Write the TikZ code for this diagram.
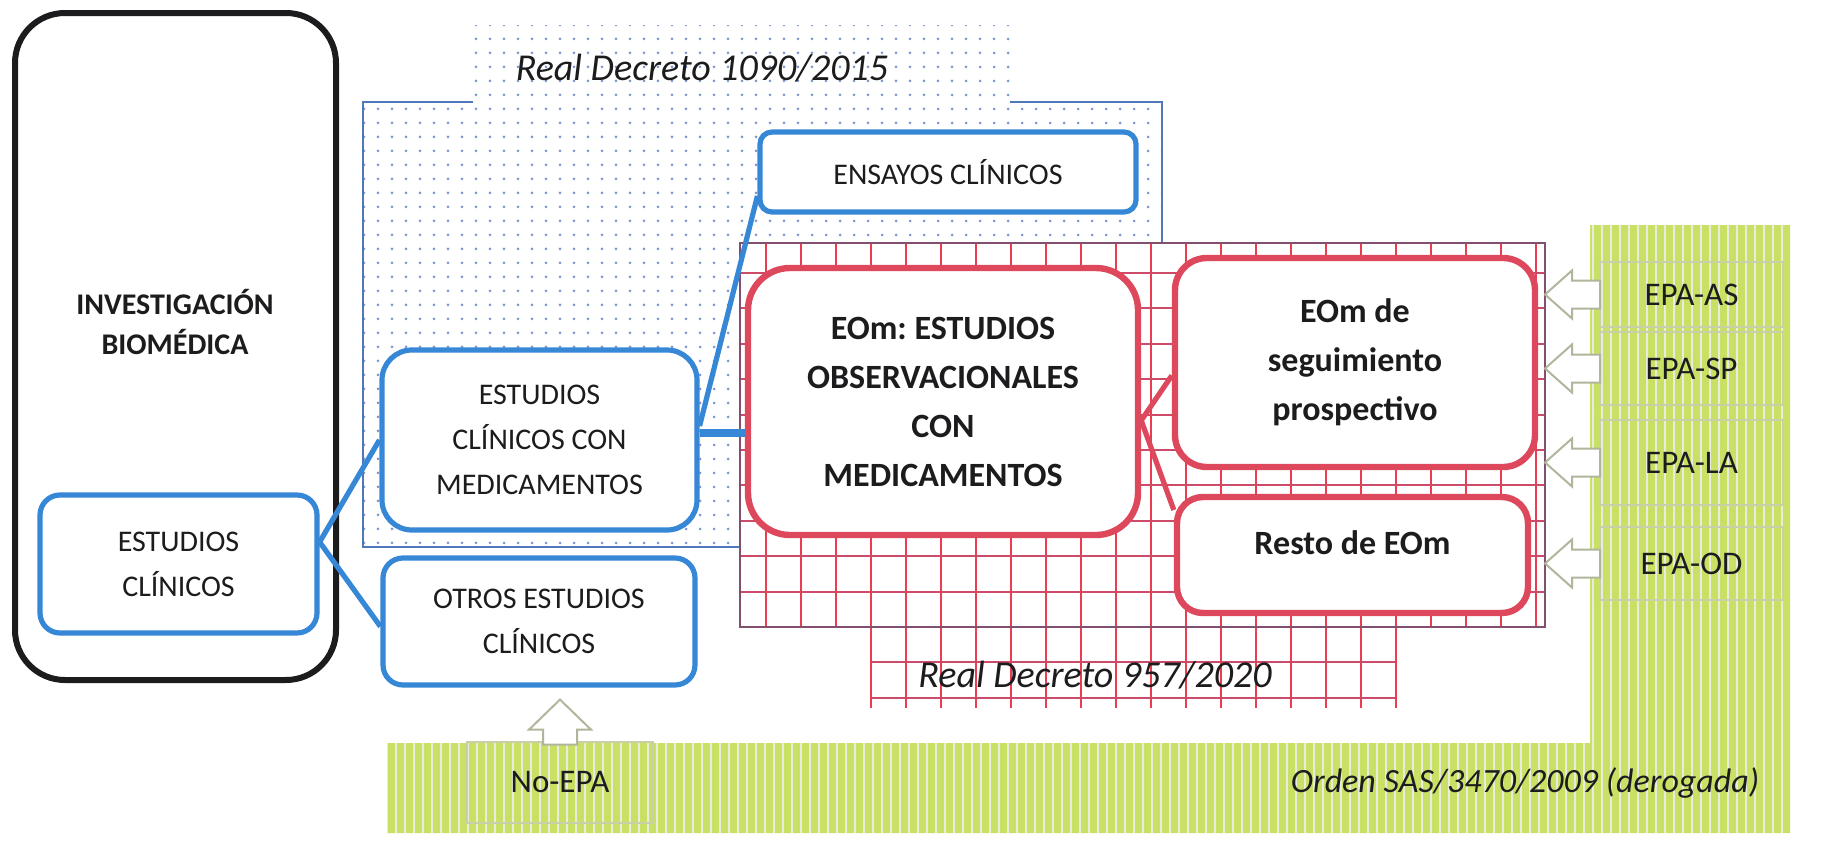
\documentclass[tikz,border=0pt]{standalone}
\usepackage{fontspec}
\setmainfont{Carlito}
\usetikzlibrary{patterns.meta,calc}
\definecolor{bluebox}{RGB}{55,135,215}
\definecolor{blueedge}{RGB}{80,120,185}
\definecolor{dotblue}{RGB}{125,150,205}
\definecolor{redbox}{RGB}{222,72,92}
\definecolor{gridv}{RGB}{236,60,80}
\definecolor{gridh}{RGB}{205,75,105}
\definecolor{gridedge}{RGB}{130,80,110}
\definecolor{greenbg}{RGB}{200,225,100}
\definecolor{greenln}{RGB}{232,235,222}
\definecolor{arrowgray}{RGB}{175,182,155}
\definecolor{epaedge}{RGB}{200,208,170}
\definecolor{ink}{RGB}{28,28,30}
\begin{document}
\frenchspacing
\begin{tikzpicture}[x=0.5pt,y=-0.5pt,
  blackbx/.style={draw=ink, line width=3pt, rounded corners=25pt, fill=white, inner sep=0pt},
  bluebx/.style={draw=bluebox, line width=2.6pt, fill=white, align=center, text=ink,
     font=\fontsize{15}{22.5}\selectfont, inner sep=0pt},
  redbx/.style={draw=redbox, line width=3.2pt, fill=white, align=center, text=ink,
     font=\fontsize{17}{24.5}\selectfont\bfseries, inner sep=0pt},
  redtxt/.style={align=center, text=ink, font=\fontsize{17}{24.5}\selectfont\bfseries, inner sep=0pt},
  invtxt/.style={align=center, text=ink, font=\fontsize{15}{20.5}\selectfont\bfseries, inner sep=0pt},
  epabx/.style={draw=epaedge, line width=0.7pt, text=ink, font=\fontsize{16.5}{20}\selectfont,
     minimum width=91.5pt, inner sep=0pt},
  titletxt/.style={text=ink, font=\fontsize{19}{22}\selectfont\itshape, inner sep=0pt},
  ordtxt/.style={text=ink, font=\fontsize{17}{20}\selectfont\itshape, inner sep=0pt},
  bluecon/.style={draw=bluebox, line width=2.6pt},
  redcon/.style={draw=redbox, line width=2.6pt},
  hollow/.style={draw=arrowgray, line width=1pt, fill=white, line join=miter},
  gridvl/.style={draw=gridv, line width=1pt},
  gridhl/.style={draw=gridh, line width=1pt}
]
\useasboundingbox (0,0) rectangle (1821,851);

% ---------- Real Decreto 1090/2015 region (dotted) ----------
\fill[pattern={Dots[distance=7pt,radius=0.75pt]}, pattern color=dotblue]
  (363,102) -- (473,102) -- (473,25) -- (1010,25) -- (1010,102) -- (1162,102)
  -- (1162,547) -- (363,547) -- cycle;
\draw[blueedge, line width=0.9pt] (473,102) -- (363,102) -- (363,547) -- (1162,547) -- (1162,102) -- (1010,102);

% ---------- Orden SAS region (green stripes) ----------
\path[preaction={fill=greenbg}, pattern={Lines[angle=90,distance=4.5pt,line width=1.4pt]}, pattern color=greenln]
  (387,743) -- (1590,743) -- (1590,225) -- (1790,225) -- (1790,833) -- (387,833) -- cycle;

% ---------- Real Decreto 957/2020 region (red grid) ----------
\fill[white] (740,243) rectangle (1545,627);
\fill[white] (871,627) rectangle (1396,708);
\foreach \k in {0,...,22}{\draw[gridvl] ({766+35*\k},243) -- ({766+35*\k},627);}
\foreach \k in {3,...,18}{\draw[gridvl] ({766+35*\k},627) -- ({766+35*\k},708);}
\foreach \k in {0,...,9}{\draw[gridhl] (740,{273+35.4*\k}) -- (1545,{273+35.4*\k});}
\foreach \yy in {662.4,697.8}{\draw[gridhl] (871,\yy) -- (1396,\yy);}
\draw[gridedge, line width=0.9pt] (740,243) rectangle (1545,627);
\coordinate (gridE) at (1545,243);

% ---------- titles ----------
\node[titletxt] (rd1) at (702,68) {Real Decreto 1090/2015};
\node[titletxt] (rd2) at (1095,675) {Real Decreto 957/2020};
\node[ordtxt] (ord) at (1525,783) {Orden SAS/3470/2009 (derogada)};

% ---------- EPA boxes ----------
\node[epabx, minimum height=32.5pt] (as) at (1691.5,294.5) {EPA-AS};
\node[epabx, minimum height=36.5pt] (sp) at (1691.5,368.5) {EPA-SP};
\node[epabx, minimum height=42.5pt] (la) at (1691.5,462.5) {EPA-LA};
\node[epabx, minimum height=36.5pt] (od) at (1691.5,563.5) {EPA-OD};
\node[epabx, minimum width=93pt, minimum height=40.5pt] (noepa) at (560,782.5) {No-EPA};

% ---------- main boxes ----------
\node[blackbx, minimum width=160.5pt, minimum height=333.5pt] (inv) at (175.5,346.5) {};
\node[invtxt] (invt) at (175,322) {INVESTIGACIÓN\\BIOMÉDICA};

\node[bluebx, rounded corners=10pt, minimum width=138.5pt, minimum height=69pt] (ec) at (178.5,564) {ESTUDIOS\\CLÍNICOS};
\node[bluebx, rounded corners=15pt, minimum width=157.5pt, minimum height=90pt] (eccm) at (539.5,440) {ESTUDIOS\\CLÍNICOS CON\\MEDICAMENTOS};
\node[bluebx, rounded corners=10pt, minimum width=156pt, minimum height=63.5pt] (otros) at (539,621.5) {OTROS ESTUDIOS\\CLÍNICOS};
\node[bluebx, rounded corners=6pt, minimum width=188pt, minimum height=40pt] (ens) at (948,172) {ENSAYOS CLÍNICOS};

\node[redbx, rounded corners=21pt, minimum width=195pt, minimum height=133.5pt] (eom) at (943,401.5) {EOm: ESTUDIOS\\OBSERVACIONALES\\CON\\MEDICAMENTOS};
\node[redbx, rounded corners=16pt, minimum width=180pt, minimum height=104.5pt] (seg) at (1355,362.5) {EOm de\\seguimiento\\prospectivo};
\node[redbx, rounded corners=13pt, minimum width=175.5pt, minimum height=58pt] (resto) at (1352.5,555) {};
\node[redtxt] (restot) at (1352.5,543) {Resto de EOm};

% ---------- connectors ----------
\draw[bluecon] ([yshift=11pt]ec.east) -- (eccm.west);
\draw[bluecon] ([yshift=11pt]ec.east) -- ([yshift=-2.5pt]otros.west);
\draw[bluecon] ([yshift=7pt]eccm.east) -- ([yshift=-12pt]ens.west);
\draw[draw=bluebox, line width=4pt] ([yshift=3.5pt]eccm.east) -- ([yshift=3.5pt]eccm.east -| eom.west);
\draw[redcon] ([yshift=-9.5pt]eom.east) -- ([yshift=-6.5pt]seg.west);
\draw[redcon] ([yshift=-9.5pt]eom.east) -- ([yshift=22.5pt]resto.west);

% ---------- hollow arrows ----------
\foreach \b in {as,sp,la,od}{
  \draw[hollow] (gridE |- \b.west) -- ++(27,-24) -- ++(0,10) -- ++(28,0) -- ++(0,28) -- ++(-28,0) -- ++(0,10) -- cycle;
}
\draw[hollow] ($(otros.south -| noepa.north)+(0,12)$) -- ++(31,30) -- ++(-14,0) -- ++(0,15) -- ++(-34,0) -- ++(0,-15) -- ++(-14,0) -- cycle;
\end{tikzpicture}
\end{document}
